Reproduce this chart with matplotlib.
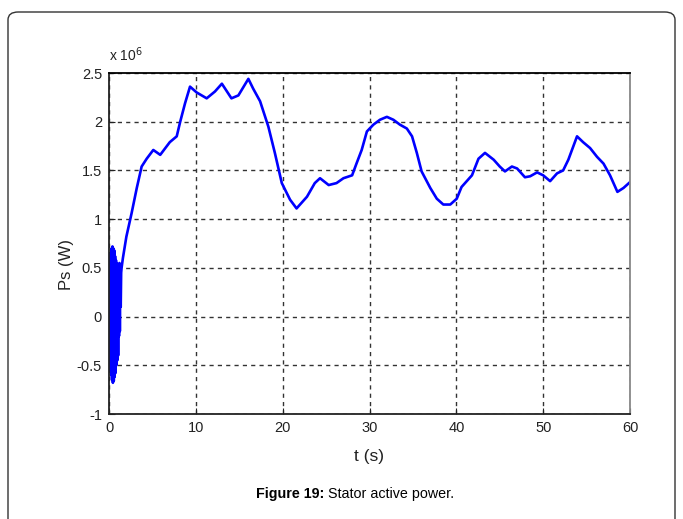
# Stator active power plot
import numpy as np
import matplotlib.pyplot as plt
from matplotlib.patches import FancyBboxPatch

plt.rcParams['font.family'] = ['Liberation Sans', 'DejaVu Sans']

# start-up transient (x 10^6 W), oscillation extremes
trans_t = [0.0, 0.05, 0.1, 0.15, 0.2, 0.25, 0.3, 0.35, 0.4, 0.45, 0.5, 0.55,
           0.6, 0.65, 0.7, 0.75, 0.8, 0.85, 0.9, 0.95, 1.0, 1.05, 1.1, 1.15,
           1.2, 1.25, 1.3, 1.35, 1.4, 1.45]
trans_p = [0.2, -0.5, 0.6, -0.55, 0.65, -0.6, 0.7, -0.65, 0.72, -0.68, 0.7,
           -0.66, 0.68, -0.62, 0.62, -0.58, 0.58, -0.5, 0.55, -0.45, 0.5,
           -0.4, 0.45, -0.2, 0.55, -0.15, 0.5, 0.1, 0.45, 0.5]

# slow part of the response (x 10^6 W)
t_main = [1.6, 2.0, 2.6, 3.2, 3.76, 4.34, 5.1, 5.9, 7.0, 7.8, 8.2, 8.76, 9.33,
          10.1, 11.25, 12.2, 13.0, 14.1, 14.9, 16.05, 16.6, 17.4, 18.35, 19.1,
          19.9, 20.85, 21.6, 22.8, 23.7, 24.3, 25.3, 26.2, 27.0, 28.0, 28.5,
          29.1, 29.7, 30.45, 31.2, 32.0, 32.75, 33.5, 34.3, 34.9, 35.45, 36.0,
          37.0, 37.75, 38.5, 39.3, 40.05, 40.6, 41.8, 42.55, 43.3, 44.3, 45.0,
          45.6, 46.4, 47.0, 47.9, 48.5, 49.3, 50.0, 50.8, 51.6, 52.3, 52.9,
          53.9, 54.6, 55.4, 56.2, 56.95, 57.7, 58.55, 59.25, 60.0]
p_main = [0.6, 0.82, 1.06, 1.32, 1.54, 1.62, 1.71, 1.66, 1.79, 1.85, 2.0, 2.19,
          2.36, 2.30, 2.24, 2.31, 2.39, 2.24, 2.27, 2.44, 2.34, 2.21, 1.95,
          1.68, 1.37, 1.20, 1.11, 1.23, 1.37, 1.42, 1.35, 1.37, 1.42, 1.45,
          1.57, 1.71, 1.90, 1.97, 2.02, 2.05, 2.02, 1.97, 1.93, 1.85, 1.68,
          1.49, 1.32, 1.21, 1.15, 1.15, 1.21, 1.33, 1.45, 1.62, 1.68, 1.61,
          1.54, 1.49, 1.54, 1.52, 1.43, 1.44, 1.48, 1.45, 1.39, 1.47, 1.50,
          1.61, 1.85, 1.79, 1.73, 1.64, 1.57, 1.45, 1.28, 1.32, 1.38]

x_ticks = [0, 10, 20, 30, 40, 50, 60]
y_ticks = [-1, -0.5, 0, 0.5, 1, 1.5, 2, 2.5]
y_labels = ['-1', '-0.5', '0', '0.5', '1', '1.5', '2', '2.5']

fig = plt.figure(figsize=(6.83, 5.19), dpi=100)

# rounded frame around the whole figure
frame = FancyBboxPatch((8 / 683, -0.05), 667 / 683, 1 - 12 / 519 + 0.05,
                       boxstyle='round,pad=0,rounding_size=0.015',
                       transform=fig.transFigure, fill=False,
                       edgecolor='#333333', linewidth=1.0)
fig.patches.append(frame)

ax = fig.add_axes([109 / 683, 1 - 414 / 519, 521 / 683, 341 / 519])

t_all = trans_t + t_main
p_all = trans_p + p_main
ax.plot(t_all, p_all, color='#0000ff', linewidth=1.9)

ax.set_xlim(0, 60)
ax.set_ylim(-1, 2.5)
ax.set_xticks(x_ticks)
ax.set_yticks(y_ticks)
ax.set_yticklabels(y_labels)
ax.tick_params(direction='in', length=4, labelsize=10.5, colors='#222222', pad=5)

ax.grid(True, color='#333333', linestyle=(0, (3, 3)), linewidth=1.0)
for s in ['left', 'bottom']:
    ax.spines[s].set_linewidth(1.3)
    ax.spines[s].set_color('#222222')
ax.spines['right'].set_color('#888888')
ax.spines['right'].set_linewidth(1.3)
ax.spines['top'].set_linewidth(1.3)

ax.text(0.0, 1.025, r'x 10$^6$', transform=ax.transAxes, fontsize=10,
        color='#222222', ha='left', va='bottom')

fig.text(66 / 683, 1 - 265 / 519, 'Ps (W)', rotation=90, fontsize=12,
         ha='center', va='center', color='#222222')
fig.text(369 / 683, 1 - 456 / 519, 't (s)', fontsize=12.5, ha='center',
         va='center', color='#222222')

# caption
fig.text(324 / 683, 1 - 494 / 519, 'Figure 19:', fontsize=10.3,
         fontweight='bold', ha='right', va='center')
fig.text(328 / 683, 1 - 494 / 519, 'Stator active power.', fontsize=10.3,
         ha='left', va='center')

fig.savefig('out.png', dpi=100)
